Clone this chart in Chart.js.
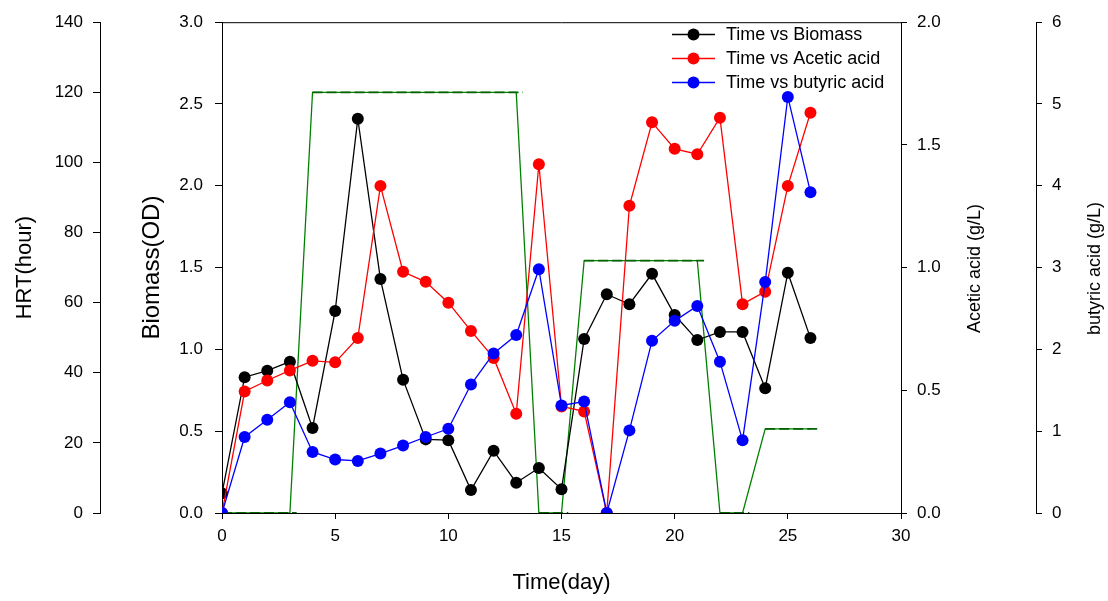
<!DOCTYPE html>
<html>
<head>
<meta charset="utf-8">
<script src="https://cdn.jsdelivr.net/npm/chart.js@4.4.1/dist/chart.umd.min.js"></script>
<style>
  body { margin: 0; background: #fff; }
  canvas { display: block; }
</style>
</head>
<body>
<canvas id="hrtChart" width="1108" height="601"></canvas>
<script>
// data
const days = [0,1,2,3,4,5,6,7,8,9,10,11,12,13,14,15,16,17,18,19,20,21,22,23,24,25,26];
const biomass = [0.12,0.83,0.87,0.925,0.52,1.235,2.41,1.43,0.815,0.45,0.445,0.14,0.38,0.185,0.275,0.145,
                 1.063,1.337,1.276,1.462,1.21,1.057,1.107,1.107,0.763,1.469,1.069];
const aceticAcid = [0,0.495,0.54,0.581,0.62,0.614,0.713,1.333,0.983,0.942,0.857,0.742,0.632,0.404,1.421,0.434,
                    0.414,0,1.252,1.592,1.484,1.462,1.611,0.851,0.902,1.333,1.631];
const butyricAcid = [0,0.929,1.14,1.355,0.746,0.654,0.637,0.726,0.824,0.929,1.03,1.57,1.95,2.175,2.98,1.314,
                     1.363,0,1.01,2.105,2.349,2.531,1.85,0.888,2.823,5.087,3.922];
const hrt = [0,0,0,0,120,120,120,120,120,120,120,120,120,120,0,0,72,72,72,72,72,72,0,0,24,24,24];

// HRT plateaus (dashed overlay)
const stepStart = [0,4,14,16,22,24];
const stepEnd = [3.3,13.3,15.3,21.3,23.3,26.3];
const stepHRT = [0,120,0,72,0,24];

const xTicks = [0,5,10,15,20,25,30];

const FONT = 'Arial, "Liberation Sans", sans-serif';
Chart.defaults.font.family = FONT;
Chart.defaults.color = '#000';

const pts = (vals) => days.map((d, i) => ({ x: d, y: vals[i] }));

const stepPts = [];
stepStart.forEach((s, i) => {
    stepPts.push({ x: s, y: stepHRT[i] });
    stepPts.push({ x: stepEnd[i], y: stepHRT[i] });
    stepPts.push({ x: stepEnd[i], y: null });
});

function series(label, vals, color, axis, order) {
    return {
        label: label,
        data: pts(vals),
        yAxisID: axis,
        borderColor: color,
        backgroundColor: color,
        borderWidth: 1.3,
        pointRadius: 6,
        pointBorderWidth: 0,
        pointBackgroundColor: color,
        tension: 0,
        order: order
    };
}

// right-hand titles read bottom-to-top, so they are drawn here
const rightTitles = [
    { scale: 'yAce', text: 'Acetic acid (g/L)', offset: 74 },
    { scale: 'yBut', text: 'butyric acid (g/L)', offset: 59 }
];

// legend drawn inside the plot, top right + frame top line + right titles
const boxLegend = {
    id: 'boxLegend',
    afterDraw(chart) {
        const ctx = chart.ctx;
        const area = chart.chartArea;
        ctx.save();
        ctx.strokeStyle = '#000';
        ctx.lineWidth = 1;
        ctx.beginPath();
        ctx.moveTo(area.left, area.top + 0.5);
        ctx.lineTo(area.right, area.top + 0.5);
        ctx.stroke();

        ctx.font = '18px ' + FONT;
        ctx.textBaseline = 'middle';
        ctx.textAlign = 'left';
        for (let i = 0; i < 3; i++) {
            const ds = chart.data.datasets[i];
            const y = 34.5 + i * 24;
            ctx.strokeStyle = ds.borderColor;
            ctx.lineWidth = 1.3;
            ctx.beginPath();
            ctx.moveTo(672, y);
            ctx.lineTo(715, y);
            ctx.stroke();
            ctx.fillStyle = ds.borderColor;
            ctx.beginPath();
            ctx.arc(693.5, y, 6, 0, Math.PI * 2);
            ctx.fill();
            ctx.fillStyle = '#000';
            ctx.fillText(ds.label, 726, y + 1);
        }

        ctx.textAlign = 'center';
        ctx.fillStyle = '#000';
        rightTitles.forEach(t => {
            const sc = chart.scales[t.scale];
            ctx.save();
            ctx.translate(sc.left + t.offset, (area.top + area.bottom) / 2 + 1);
            ctx.rotate(-Math.PI / 2);
            ctx.fillText(t.text, 0, 0);
            ctx.restore();
        });
        ctx.restore();
    }
};

function yScale(position, weight, min, max, step, width, title, titleSize, titlePad, tickLen, labelPad, fmt) {
    return {
        type: 'linear',
        position: position,
        weight: weight,
        min: min,
        max: max,
        afterFit(scale) { scale.width = width; },
        ticks: {
            stepSize: step,
            padding: labelPad,
            font: { size: 17 },
            color: '#000',
            callback: fmt
        },
        grid: { drawOnChartArea: false, drawTicks: true, tickLength: tickLen, tickColor: '#000', tickWidth: 1 },
        border: { display: true, color: '#000', width: 1 },
        title: {
            display: title !== '',
            text: title,
            font: { size: titleSize },
            color: '#000',
            padding: { top: titlePad, bottom: titlePad }
        }
    };
}

const ctx = document.getElementById('hrtChart').getContext('2d');
const hrtChart = new Chart(ctx, {
    type: 'line',
    data: {
        datasets: [
            series('Time vs Biomass', biomass, '#000000', 'yBio', 3),
            series('Time vs Acetic acid', aceticAcid, '#ff0000', 'yAce', 2),
            series('Time vs butyric acid', butyricAcid, '#0000ff', 'yBut', 1),
            {
                label: 'HRT',
                data: pts(hrt),
                yAxisID: 'yHRT',
                borderColor: '#008000',
                borderWidth: 1.3,
                pointRadius: 0,
                tension: 0,
                order: 5
            },
            {
                label: 'HRT step',
                data: stepPts,
                yAxisID: 'yHRT',
                borderColor: '#006400',
                borderWidth: 1.8,
                borderDash: [10, 4],
                pointRadius: 0,
                spanGaps: false,
                tension: 0,
                order: 4
            }
        ]
    },
    options: {
        responsive: false,
        animation: false,
        layout: { padding: { top: 20, left: 0, right: 0, bottom: 0 } },
        plugins: {
            legend: { display: false },
            tooltip: { enabled: false }
        },
        scales: {
            x: {
                type: 'linear',
                position: 'bottom',
                min: 0,
                max: 30,
                afterFit(scale) { scale.height = 88; },
                afterBuildTicks(scale) { scale.ticks = xTicks.map(v => ({ value: v })); },
                ticks: { padding: 7, font: { size: 17 }, color: '#000', maxRotation: 0 },
                grid: { drawOnChartArea: false, drawTicks: true, tickLength: 6, tickColor: '#000' },
                border: { display: true, color: '#000', width: 1 },
                title: {
                    display: true,
                    text: 'Time(day)',
                    font: { size: 22 },
                    color: '#000',
                    padding: { top: 0, bottom: 5 }
                }
            },
            yBio: yScale('left', 0, 0, 3, 0.5, 122, 'Biomass(OD)', 24, 38, 7, 12, v => v.toFixed(1)),
            yHRT: yScale('left', 1, 0, 140, 20, 100, 'HRT(hour)', 22, 12, 7, 10, v => v),
            yAce: yScale('right', 0, 0, 2, 0.5, 135, '', 18, 0, 6, 10, v => v.toFixed(1)),
            yBut: yScale('right', 1, 0, 6, 1, 72, '', 18, 0, 6, 10, v => v)
        }
    },
    plugins: [boxLegend]
});
</script>
</body>
</html>
